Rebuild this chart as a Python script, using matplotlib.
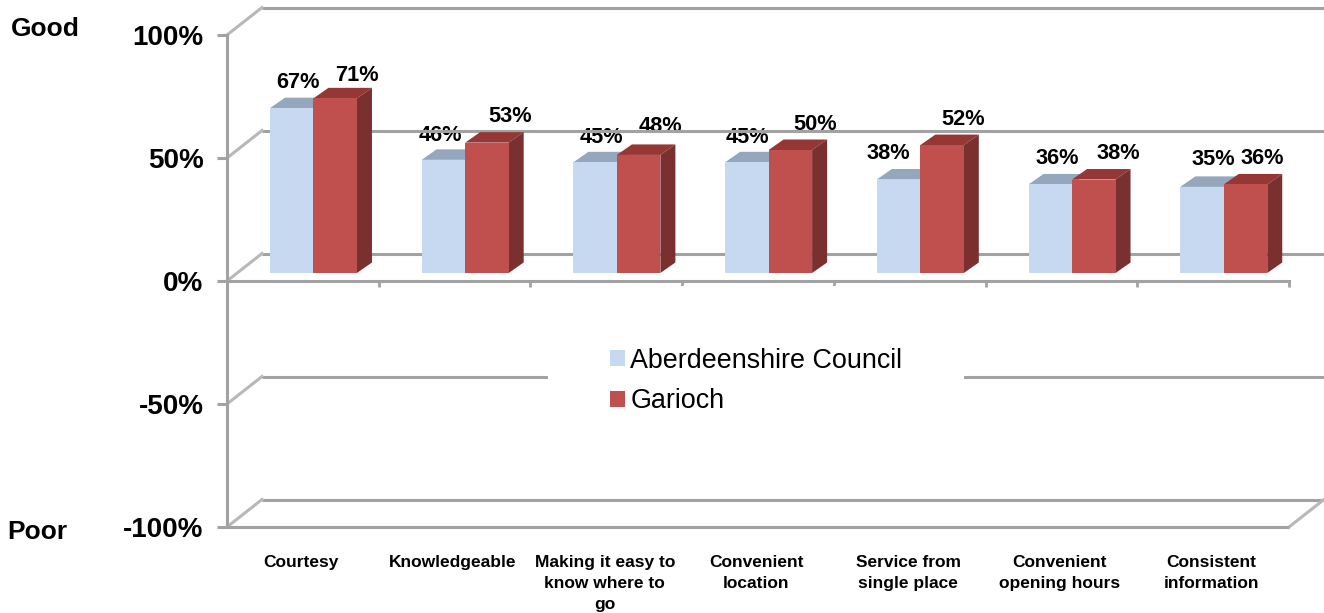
import numpy as np
import matplotlib
matplotlib.use('Agg')
import matplotlib.pyplot as plt
from matplotlib.transforms import Affine2D

categories=['Courtesy','Knowledgeable','Making it easy to\nknow where to\ngo','Convenient\nlocation',
            'Service from\nsingle place','Convenient\nopening hours','Consistent\ninformation']
council=[67,46,45,45,38,36,35]
garioch=[71,53,48,50,52,38,36]
yticks=[-100,-50,0,50,100]
series_names=['Aberdeenshire Council','Garioch']

plt.rcParams['font.family']=['Liberation Sans','DejaVu Sans']

W,H=1324,613
fig=plt.figure(figsize=(W/100,H/100),dpi=100)
ax=fig.add_axes([227/W,1-527/H,(1289-227)/W,(527-35)/H])
ax.set_xlim(-0.5,6.5)
ax.set_ylim(-100,100)
ax.patch.set_visible(False)

xpx=7/1062      # data units for one pixel
ypx=200/492
grey='#a2a2a2'

# back wall + left wall lines
back=ax.transData+Affine2D().translate(35,27.5)
for v in yticks:
    ax.plot([-0.5,6.5],[v,v],color=grey,lw=2.2,transform=back,clip_on=False,zorder=1,solid_capstyle='butt')
    ax.plot([-0.5,-0.5+35*xpx],[v,v+27.5*ypx],color='#b8b8b8',lw=2.2,clip_on=False,zorder=1)
ax.plot([6.5,6.5+35*xpx],[-100,-100+27.5*ypx],color='#b8b8b8',lw=2.2,clip_on=False,zorder=1)
ax.plot([-0.5,6.5],[-100,-100],color=grey,lw=2.2,clip_on=False,zorder=1.5,solid_capstyle='butt')

# bars, shifted in from the front of the floor
w=43.5/151.7
bar_shift=ax.transData+Affine2D().translate(10.6,8)
dx=15*xpx
dy=10.5*ypx
x=np.arange(len(categories))
b1=ax.bar(x-w/2,council,w,color='#c6d9f1',transform=bar_shift,zorder=3)
for xi,v in zip(x-w/2,council):
    ax.fill([xi-w/2,xi+w/2,xi+w/2+dx,xi-w/2+dx],[v,v,v+dy,v+dy],color='#94a7bd',lw=0,transform=bar_shift,clip_on=False,zorder=2.5)
b2=ax.bar(x+w/2,garioch,w,color='#c0504d',transform=bar_shift,zorder=4)
for xi,v in zip(x+w/2,garioch):
    ax.fill([xi-w/2,xi+w/2,xi+w/2+dx,xi-w/2+dx],[v,v,v+dy,v+dy],color='#953735',lw=0,transform=bar_shift,clip_on=False,zorder=3.5)
    ax.fill([xi+w/2,xi+w/2+dx,xi+w/2+dx,xi+w/2],[0,dy,v+dy,v],color='#7a302e',lw=0,transform=bar_shift,clip_on=False,zorder=3.5)

# data labels, each one sits a bit differently above its bar
# zorder under the grid lines, the back line runs over 46% and 48%
off1=[(6,26),(-3.5,24),(6,25),(1,25),(-10,26.5),(7,26),(11,27)]
off2=[(22,23),(23,26.6),(22,28),(25,26),(21,26),(25,26.5),(16.5,26)]
for xi,v,o in zip(x-w/2,council,off1):
    ax.annotate(f'{v}%',(xi,v),xycoords=bar_shift,xytext=o,textcoords='offset pixels',ha='center',va='center',
                fontsize=15.7,fontweight='bold',zorder=0.5)
for xi,v,o in zip(x+w/2,garioch,off2):
    ax.annotate(f'{v}%',(xi,v),xycoords=bar_shift,xytext=o,textcoords='offset pixels',ha='center',va='center',
                fontsize=15.7,fontweight='bold',zorder=0.5)

for s in ['top','right']:
    ax.spines[s].set_visible(False)
ax.spines['left'].set_color(grey)
ax.spines['left'].set_linewidth(2.2)
ax.spines['bottom'].set_position(('data',0))
ax.spines['bottom'].set_color(grey)
ax.spines['bottom'].set_linewidth(2.2)
ax.spines['bottom'].set_zorder(2)
ax.spines['left'].set_zorder(2)

ax.set_yticks(yticks)
ax.set_yticklabels([f'{v}%' for v in yticks],fontsize=20,fontweight='bold')
ax.tick_params(axis='y',length=7,width=2.2,color=grey,pad=10)
ax.set_xticks(np.arange(-0.5,7,1))
ax.set_xticklabels([])
ax.tick_params(axis='x',length=4.5,width=2,color=grey)

for xi,c in zip(x,categories):
    ax.annotate(c,(xi,-100),xytext=(-1.5,-28),textcoords='offset pixels',ha='center',va='top',
                fontsize=12.5,fontweight='bold',linespacing=1.5,annotation_clip=False)

fig.text(45.5/W,1-29/H,'Good',ha='center',va='center',fontsize=19,fontweight='bold')
fig.text(37.5/W,1-532/H,'Poor',ha='center',va='center',fontsize=19,fontweight='bold')

leg=ax.legend([b1,b2],series_names,loc='center',bbox_to_anchor=(756/W,1-381/H),bbox_transform=fig.transFigure,
              fontsize=19.4,frameon=True,facecolor='white',edgecolor='none',framealpha=1,fancybox=False,
              handlelength=0.57,handleheight=0.57,handletextpad=0.2,labelspacing=0.55,borderpad=2.27,borderaxespad=0)
leg.set_zorder(5)

fig.savefig('out.png',dpi=100)
